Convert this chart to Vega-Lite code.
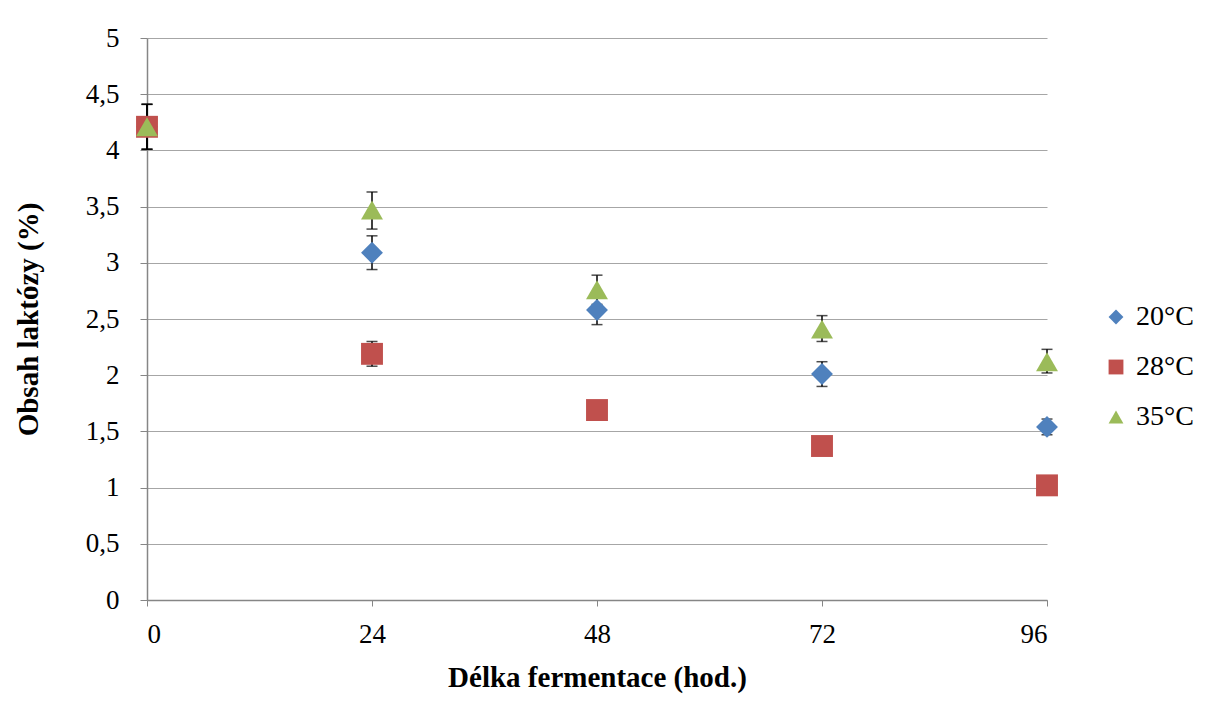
{
  "$schema": "https://vega.github.io/schema/vega-lite/v6.json",
  "width": 900,
  "height": 562,
  "autosize": {"type": "none"},
  "padding": {"left": 147, "top": 38, "right": 177, "bottom": 120},
  "background": "white",
  "data": {
    "values": [
      {"series": "20°C", "t": 0, "y": 4.21, "lo": 4.01, "hi": 4.41},
      {"series": "20°C", "t": 24, "y": 3.09, "lo": 2.94, "hi": 3.24},
      {"series": "20°C", "t": 48, "y": 2.58, "lo": 2.45, "hi": 2.71},
      {"series": "20°C", "t": 72, "y": 2.01, "lo": 1.9, "hi": 2.12},
      {"series": "20°C", "t": 96, "y": 1.54, "lo": 1.47, "hi": 1.61},
      {"series": "28°C", "t": 0, "y": 4.21, "lo": 4.01, "hi": 4.41},
      {"series": "28°C", "t": 24, "y": 2.19, "lo": 2.08, "hi": 2.3},
      {"series": "28°C", "t": 48, "y": 1.69, "lo": 1.66, "hi": 1.72},
      {"series": "28°C", "t": 72, "y": 1.37, "lo": 1.34, "hi": 1.4},
      {"series": "28°C", "t": 96, "y": 1.02, "lo": 0.99, "hi": 1.05},
      {"series": "35°C", "t": 0, "y": 4.21, "lo": 4.01, "hi": 4.41},
      {"series": "35°C", "t": 24, "y": 3.47, "lo": 3.3, "hi": 3.63},
      {"series": "35°C", "t": 48, "y": 2.76, "lo": 2.63, "hi": 2.89},
      {"series": "35°C", "t": 72, "y": 2.41, "lo": 2.3, "hi": 2.53},
      {"series": "35°C", "t": 96, "y": 2.12, "lo": 2.02, "hi": 2.23}
    ]
  },
  "config": {
    "font": "Times New Roman, Liberation Serif, serif",
    "view": {"stroke": null}
  },
  "encoding": {
    "x": {
      "field": "t",
      "type": "quantitative",
      "scale": {"domain": [0, 96], "nice": false},
      "axis": {
        "values": [0, 24, 48, 72, 96],
        "title": "Délka fermentace (hod.)",
        "grid": false,
        "tickSize": 6,
        "tickColor": "#868686",
        "domainColor": "#868686",
        "domainWidth": 1.5,
        "labelFont": "Times New Roman, Liberation Serif, serif",
        "labelFontSize": 27,
        "labelColor": "black",
        "labelPadding": 15,
        "titleFont": "Times New Roman, Liberation Serif, serif",
        "titleFontSize": 29,
        "titleFontWeight": "bold",
        "titleColor": "black",
        "titlePadding": 16
      }
    }
  },
  "layer": [
    {
      "mark": {"type": "rule", "color": "black", "strokeWidth": 1.5},
      "encoding": {
        "y": {
          "field": "lo",
          "type": "quantitative",
          "scale": {"domain": [0, 5], "nice": false},
          "axis": {
            "values": [0, 0.5, 1, 1.5, 2, 2.5, 3, 3.5, 4, 4.5, 5],
            "title": "Obsah laktózy (%)",
            "grid": true,
            "gridColor": "#a6a6a6",
            "tickSize": 7,
            "tickColor": "#868686",
            "domainColor": "#868686",
            "domainWidth": 1.5,
            "labelFont": "Times New Roman, Liberation Serif, serif",
            "labelFontSize": 27,
            "labelColor": "black",
            "labelPadding": 21,
            "titleFont": "Times New Roman, Liberation Serif, serif",
            "titleFontSize": 29,
            "titleFontWeight": "bold",
            "titleColor": "black",
            "titlePadding": 42,
            "labelExpr": "replace(format(datum.value, '~g'), '.', ',')"
          }
        },
        "y2": {"field": "hi"}
      }
    },
    {
      "mark": {"type": "tick", "color": "black", "orient": "horizontal", "size": 11, "thickness": 1.5},
      "encoding": {"y": {"field": "lo", "type": "quantitative"}}
    },
    {
      "mark": {"type": "tick", "color": "black", "orient": "horizontal", "size": 11, "thickness": 1.5},
      "encoding": {"y": {"field": "hi", "type": "quantitative"}}
    },
    {
      "mark": {"type": "point", "filled": true, "opacity": 1, "size": 480},
      "encoding": {
        "y": {"field": "y", "type": "quantitative"},
        "color": {
          "field": "series",
          "type": "nominal",
          "scale": {"domain": ["20°C", "28°C", "35°C"], "range": ["#4f81bd", "#c0504d", "#9bbb59"]},
          "legend": {
            "title": null,
            "orient": "none",
            "legendX": 955,
            "legendY": 265,
            "labelFont": "Times New Roman, Liberation Serif, serif",
            "labelFontSize": 28,
            "labelColor": "black",
            "symbolSize": 220,
            "symbolOpacity": 1,
            "rowPadding": 22,
            "labelOffset": 6
          }
        },
        "shape": {
          "field": "series",
          "type": "nominal",
          "scale": {"domain": ["20°C", "28°C", "35°C"], "range": ["diamond", "square", "triangle-up"]},
          "legend": null
        }
      }
    }
  ]
}
